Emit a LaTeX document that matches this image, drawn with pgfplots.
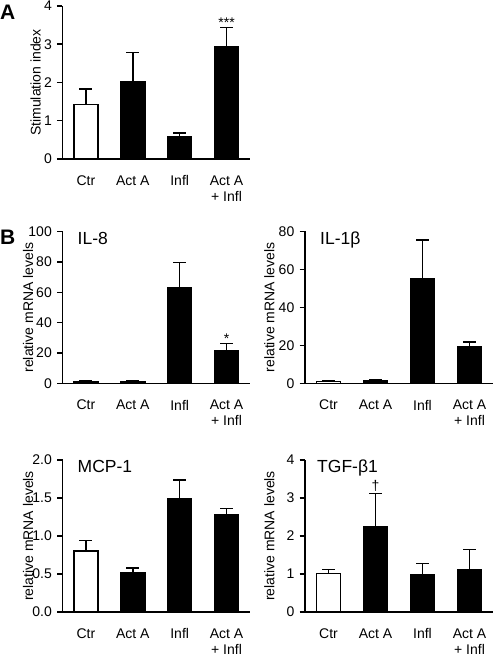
\documentclass[border=0pt]{standalone}
\usepackage{pgfplots}
\pgfplotsset{compat=1.18}
\usepackage{fontspec}
\setmainfont{Liberation Sans}
\newcommand{\lab}{\fontsize{14}{16}\selectfont}
\newcommand{\ttl}{\fontsize{17.5}{20}\selectfont}
\pgfplotsset{
  panel/.style={
    scale only axis, width=187.5pt,
    axis lines*=left, ymin=0,
    xmin=-0.5, xmax=3.5,
    xtick={0,1,2,3}, xticklabels={Ctr,Act A,Infl,{Act A\\+ Infl}},
    tick align=outside, major tick length=5.5pt,
    tick style={line width=1.5pt, black},
    xtick style={draw=none},
    xticklabel style={align=center, font=\lab, inner sep=0pt, anchor=north, yshift=-11pt},
    yticklabel style={font=\lab, inner sep=0pt, anchor=east, xshift=-5pt},
    axis line style={line width=1.5pt},
    ylabel style={font=\lab, anchor=center},
    ybar, bar width=24pt, bar shift=0pt,
    /pgf/number format/assume math mode=true,
    clip=false,
  },
  barw/.style={fill=white, draw=black, line width=1.5pt,
    error bars/.cd, y dir=plus, y explicit, error mark=|,
    error bar style={line width=1.5pt, black},
    error mark options={line width=1.5pt, mark size=6.5pt, black}},
  barb/.style={fill=black, draw=black, line width=1.5pt,
    error bars/.cd, y dir=plus, y explicit, error mark=|,
    error bar style={line width=1.5pt, black},
    error mark options={line width=1.5pt, mark size=6.5pt, black}},
}
\begin{document}
\begin{tikzpicture}
\useasboundingbox (0,0) rectangle (494pt,656pt);
\node[anchor=north west, inner sep=0pt, font=\fontsize{21}{24}\selectfont\bfseries] at (0pt,651pt) {A};
\node[anchor=north west, inner sep=0pt, font=\fontsize{21}{24}\selectfont\bfseries] at (0pt,426pt) {B};

% Panel A
\begin{axis}[panel, at={(62.5pt,497pt)}, anchor=south west, height=153pt,
  ymax=4, ytick={0,1,2,3,4}, yticklabels={0,1,2,3,4},
  ylabel={Stimulation index}, ylabel style={at={(axis description cs:-0.1435,0.5)}}]
\addplot[barw] coordinates {(0,1.42) +- (0,0.41)};
\addplot[barb] coordinates {(1,2.02) +- (0,0.76) (2,0.57) +- (0,0.11) (3,2.93) +- (0,0.51)};
\node[anchor=south, inner sep=0pt, font=\lab] at (axis cs:3,3.44) {***};
\end{axis}

% IL-8
\begin{axis}[panel, at={(62.5pt,272.7pt)}, anchor=south west, height=151.6pt,
  ymax=100, ytick={0,20,40,60,80,100}, yticklabels={0,20,40,60,80,100},
  ylabel={relative mRNA levels}, ylabel style={at={(axis description cs:-0.184,0.5)}}]
\addplot[barw] coordinates {(0,1.0) +- (0,0.4)};
\addplot[barb] coordinates {(1,1.2) +- (0,0.3) (2,62.8) +- (0,16.8) (3,21.2) +- (0,4.9)};
\node[anchor=north west, inner sep=0pt, font=\ttl, xshift=15pt] at (rel axis cs:0,1) {IL-8};
\node[anchor=south, inner sep=0pt, font=\lab] at (axis cs:3,26.1) {*};
\end{axis}

% IL-1beta
\begin{axis}[panel, at={(305pt,272.7pt)}, anchor=south west, width=188pt, height=152pt,
  ymax=80, ytick={0,20,40,60,80}, yticklabels={0,20,40,60,80},
  ylabel={relative mRNA levels}, ylabel style={at={(axis description cs:-0.19,0.5)}}]
\addplot[barw] coordinates {(0,1.0) +- (0,0.5)};
\addplot[barb] coordinates {(1,1.3) +- (0,0.8) (2,54.8) +- (0,20.7) (3,19.0) +- (0,2.8)};
\node[anchor=north west, inner sep=0pt, font=\ttl, xshift=15pt] at (rel axis cs:0,1) {IL-1β};
\end{axis}

% MCP-1
\begin{axis}[panel, at={(62.5pt,44pt)}, anchor=south west, height=152pt,
  ymax=2, ytick={0,0.5,1,1.5,2}, yticklabels={0.0,0.5,1.0,1.5,2.0},
  ylabel={relative mRNA levels}, ylabel style={at={(axis description cs:-0.184,0.5)}}]
\addplot[barw] coordinates {(0,0.80) +- (0,0.14)};
\addplot[barb] coordinates {(1,0.51) +- (0,0.07) (2,1.49) +- (0,0.25) (3,1.28) +- (0,0.08)};
\node[anchor=north west, inner sep=0pt, font=\ttl, xshift=15pt] at (rel axis cs:0,1) {MCP-1};
\end{axis}

% TGF-beta1
\begin{axis}[panel, at={(305pt,44pt)}, anchor=south west, width=188pt, height=152pt,
  ymax=4, ytick={0,1,2,3,4}, yticklabels={0,1,2,3,4},
  ylabel={relative mRNA levels}, ylabel style={at={(axis description cs:-0.19,0.5)}}]
\addplot[barw] coordinates {(0,1.01) +- (0,0.11)};
\addplot[barb] coordinates {(1,2.24) +- (0,0.88) (2,0.98) +- (0,0.30) (3,1.11) +- (0,0.54)};
\node[anchor=north west, inner sep=0pt, font=\ttl, xshift=12pt] at (rel axis cs:0,1) {TGF-β1};
\node[anchor=south, inner sep=0pt, font=\lab, yshift=2pt] at (axis cs:1,3.12) {†};
\end{axis}
\end{tikzpicture}
\end{document}
